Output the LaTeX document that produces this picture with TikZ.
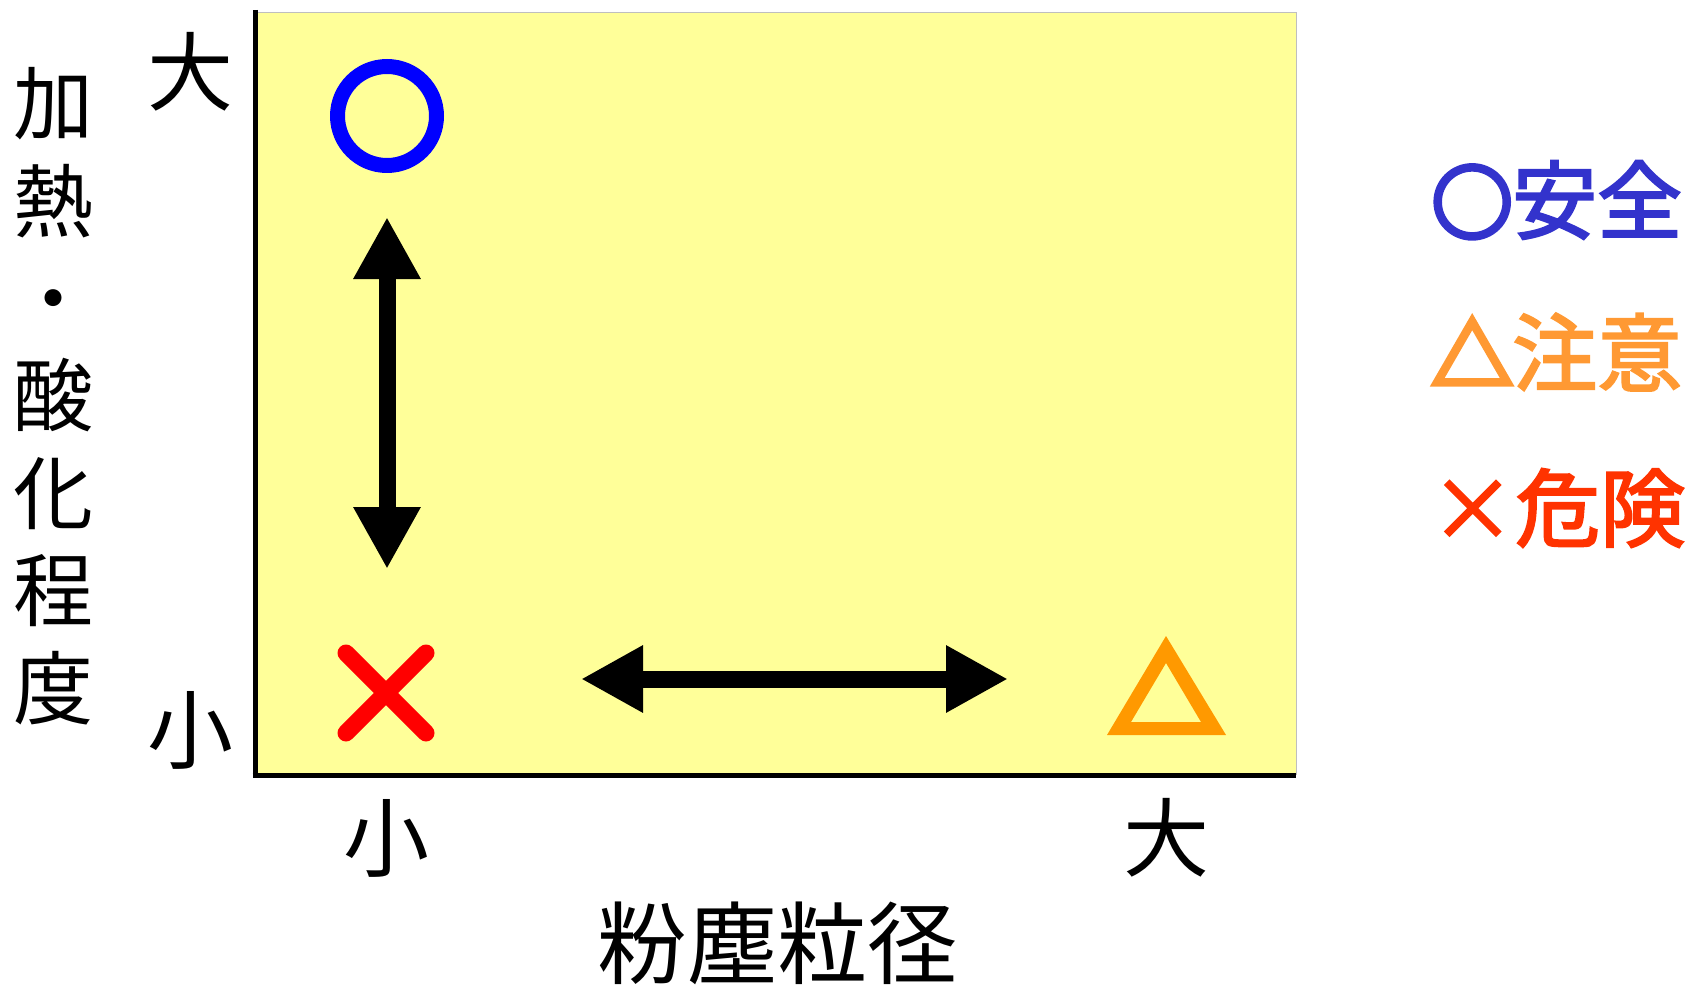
\documentclass[tikz,border=0pt]{standalone}
\usepackage{fontspec}
\newfontfamily\jp{Noto Sans CJK JP}
\newfontfamily\jpleg[FakeBold=2.5]{Noto Sans CJK JP}
\newfontfamily\jpsym[FakeBold=7]{Noto Sans CJK JP}
\usetikzlibrary{arrows.meta}
\definecolor{plotbg}{RGB}{255,255,153}
\definecolor{ringblue}{RGB}{0,0,255}
\definecolor{xred}{RGB}{255,0,0}
\definecolor{triorange}{RGB}{255,153,0}
\definecolor{legblue}{RGB}{51,51,204}
\definecolor{legorange}{RGB}{255,153,51}
\definecolor{legred}{RGB}{255,51,0}
\begin{document}
\begin{tikzpicture}[x=1pt,y=-1pt,
  ticklabel/.style={font=\jp\fontsize{86}{86}\selectfont, inner sep=0pt},
  axlabel/.style={font=\jp\fontsize{90}{90}\selectfont, inner sep=0pt},
  leglabel/.style={font=\jpleg\fontsize{85}{85}\selectfont, inner sep=0pt, anchor=west},
  bigarrow/.style={line width=17pt, {Triangle[length=62pt,width=63pt]}-{Triangle[length=62pt,width=63pt]}}
]
\useasboundingbox (0,0) rectangle (1700,995);
% plot area
\fill[plotbg] (255,13) rectangle (1296,775);
\draw[line width=1pt, black!25] (255,13) -- (1296,13) -- (1296,775);
\draw[line width=5pt, black] (255,10) -- (255,777.5);
\draw[line width=5pt, black] (252.5,775) -- (1296,775);

% markers
\node[circle, minimum size=114pt, inner sep=0pt] (safe) at (387,116) {};
\fill[ringblue, even odd rule] (387,116) circle[radius=57] (387,116) circle[radius=42];

\node[minimum size=96pt, inner sep=0pt] (danger) at (386,693) {};
\draw[xred, line width=17pt, line cap=round] (346,653) -- (426,733);
\draw[xred, line width=17pt, line cap=round] (426,653) -- (346,733);

\node[minimum width=119pt, minimum height=100pt, inner sep=0pt] (caution) at (1166,686) {};
\fill[triorange, even odd rule] (1166,636) -- (1226,735) -- (1107,735) -- cycle
  (1166,663) -- (1201,722) -- (1131,722) -- cycle;

% arrows
\coordinate (vt) at (387,217);
\coordinate (vb) at (387,569);
\coordinate (hl) at (581,679);
\coordinate (hr) at (1008,679);
\draw[bigarrow] (vt) -- (vb);
\draw[bigarrow] (hl) -- (hr);

% tick labels
\node[ticklabel] (ybig) at (190,72) {大};
\node[ticklabel] (ysmall) at (190,730) {小};
\node[ticklabel] (xsmall) at (386,838) {小};
\node[ticklabel] (xbig) at (1166,838) {大};

% axis labels
\node[axlabel] (xlab) at (777,943) {粉塵粒径};
\node[font=\jp\fontsize{80}{97.4}\selectfont, inner sep=0pt, align=center] (ylab) at (53,396)
  {加\\熱\\・\\酸\\化\\程\\度};

% legend
\node[leglabel, text=legblue] (lsafe) at (1432,200) {{\jpsym\fontsize{80}{80}\selectfont ○}安全};
\node[leglabel, text=legorange] (lcaution) at (1432,352) {{\jpsym\fontsize{80}{80}\selectfont △}注意};
\node[leglabel, text=legred] (ldanger) at (1430,508) {×危険};
\end{tikzpicture}
\end{document}
